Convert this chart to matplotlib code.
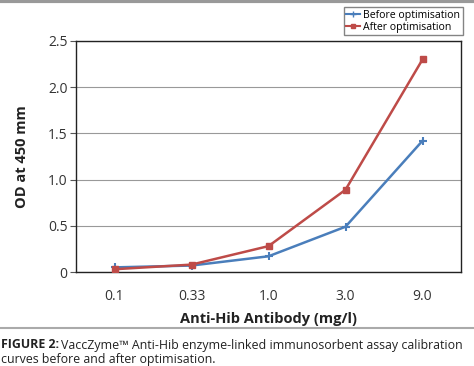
import matplotlib.pyplot as plt
from matplotlib.lines import Line2D

plt.rcParams['font.family'] = ['Open Sans', 'DejaVu Sans']

concentrations = ['0.1', '0.33', '1.0', '3.0', '9.0']
before = [0.05, 0.07, 0.17, 0.49, 1.42]
after = [0.03, 0.08, 0.28, 0.89, 2.30]
y_ticks = [0, 0.5, 1.0, 1.5, 2.0, 2.5]
y_labels = ['0', '0.5', '1.0', '1.5', '2.0', '2.5']

blue = '#4a7ebb'
red = '#be4b48'

fig = plt.figure(figsize=(4.74, 3.66), dpi=100)
ax = fig.add_axes([76 / 474, 1 - 272 / 366, 385 / 474, 231 / 366])

x = list(range(len(concentrations)))
ax.plot(x, before, color=blue, lw=1.8, marker='+', ms=6, mew=1.5,
        label='Before optimisation', zorder=3)
ax.plot(x, after, color=red, lw=1.8, marker='s', ms=5,
        label='After optimisation', zorder=4)

ax.set_xlim(-0.5, len(concentrations) - 0.5)
ax.set_ylim(0, 2.5)
ax.set_xticks(x)
ax.set_xticklabels(concentrations, fontsize=10, color='#333333')
ax.tick_params(axis='x', length=0, pad=12)
ax.set_yticks(y_ticks)
ax.set_yticklabels(y_labels, fontsize=10, color='#333333')
ax.tick_params(axis='y', length=4, color='#555555', pad=2)
ax.grid(axis='y', color='#999999', lw=0.8)
ax.set_axisbelow(True)
for s in ax.spines.values():
    s.set_color('#222222')
    s.set_linewidth(1.0)

ax.set_xlabel('Anti-Hib Antibody (mg/l)', fontsize=10.5, fontweight='bold',
              color='#222222', labelpad=6)
ax.set_ylabel('OD at 450 mm', fontsize=10.5, fontweight='bold',
              color='#222222', labelpad=14)

handles = [Line2D([], [], color=blue, lw=1.5, marker='+', ms=4),
           Line2D([], [], color=red, lw=1.5, marker='s', ms=3.5)]
fig.legend(handles, ['Before optimisation', 'After optimisation'],
           loc='upper right', bbox_to_anchor=(463 / 474, 1 - 7 / 366),
           fontsize=7.6, frameon=True, fancybox=False, edgecolor='#666666',
           handlelength=1.3, handletextpad=0.3, borderpad=0.25,
           labelspacing=0.1, borderaxespad=0)

# separator lines
fig.add_artist(Line2D([0, 1], [1 - 1 / 366, 1 - 1 / 366], color='#999999', lw=3))
fig.add_artist(Line2D([0, 1], [1 - 328 / 366, 1 - 328 / 366], color='#aaaaaa', lw=1.5))

# caption: bold lead-in followed by regular text
cap_size = 8.9
lead = fig.text(0.002, 1 - 345 / 366, 'FIGURE 2:', fontsize=cap_size,
                fontweight='bold', va='center', color='#222222')
fig.canvas.draw()
bb = lead.get_window_extent().transformed(fig.transFigure.inverted())
fig.text(bb.x1 + 0.005, 1 - 345 / 366,
         'VaccZyme\u2122 Anti-Hib enzyme-linked immunosorbent assay calibration',
         fontsize=cap_size, va='center', color='#222222')
fig.text(0.002, 1 - 360 / 366, 'curves before and after optimisation.',
         fontsize=cap_size, va='center', color='#222222')

fig.savefig('out.png', dpi=100)
